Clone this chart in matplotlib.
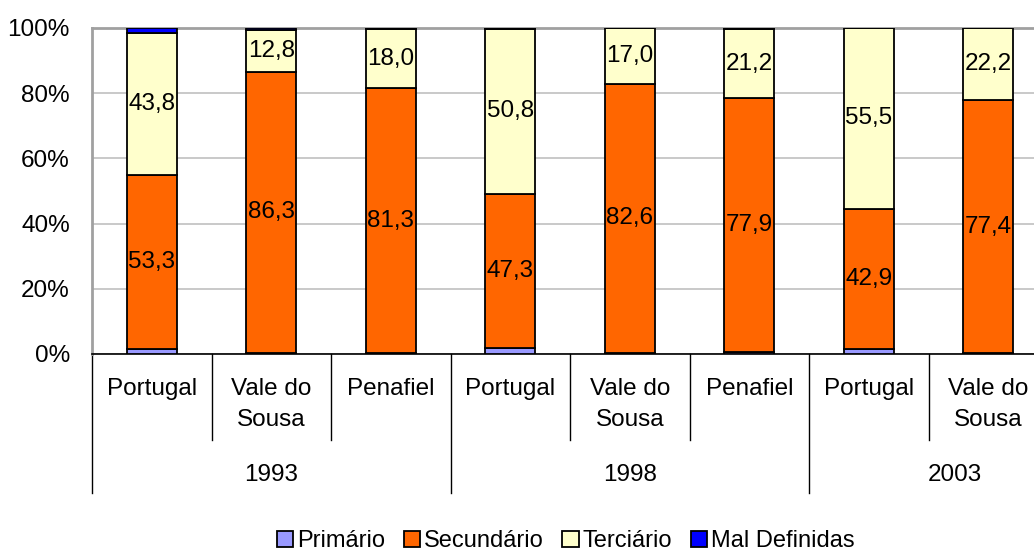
import matplotlib.pyplot as plt
import matplotlib.transforms as mtransforms
import numpy as np

plt.rcParams['font.family'] = ['Liberation Sans', 'DejaVu Sans']

# categories (Penafiel 2003 is cut off in the source picture)
places = ['Portugal', 'Vale do\nSousa', 'Penafiel',
          'Portugal', 'Vale do\nSousa', 'Penafiel',
          'Portugal', 'Vale do\nSousa']
years = ['1993', '1998', '2003']

primario = [1.5, 0.3, 0.3, 1.7, 0.3, 0.5, 1.6, 0.4]
secundario = [53.3, 86.3, 81.3, 47.3, 82.6, 77.9, 42.9, 77.4]
terciario = [43.8, 12.8, 18.0, 50.8, 17.0, 21.2, 55.5, 22.2]
mal_definidas = [1.4, 0.6, 0.4, 0.2, 0.1, 0.4, 0.0, 0.0]

series = [
    ('Primário', primario, '#9999FF'),
    ('Secundário', secundario, '#FF6600'),
    ('Terciário', terciario, '#FFFFCC'),
    ('Mal Definidas', mal_definidas, '#0000FF'),
]

fig = plt.figure(figsize=(10.34, 5.51), dpi=100)
ax = fig.add_axes([92 / 1034, 1 - 354 / 551, 1 - 92 / 1034, 326 / 551])

x = np.arange(len(places))
bottom = np.zeros(len(places))
for name, vals, color in series:
    vals = np.array(vals)
    ax.bar(x, vals, width=0.42, bottom=bottom, color=color,
           edgecolor='black', linewidth=1.3, label=name, zorder=3)
    if name in ('Secundário', 'Terciário'):
        for xi, b, v in zip(x, bottom, vals):
            ax.text(xi, b + v / 2, f'{v:.1f}'.replace('.', ','),
                    ha='center', va='center', fontsize=17.5, zorder=4)
    bottom += vals

ax.set_ylim(0, 100)
ax.set_xlim(-0.5, -0.5 + (1034 - 92) / 119.5)
ax.set_yticks(np.arange(0, 101, 20))
ax.set_yticklabels([f'{v}%' for v in range(0, 101, 20)], fontsize=17.5)
ax.tick_params(axis='y', length=0, pad=16)
ax.set_xticks([])
ax.grid(axis='y', color='#C0C0C0', linewidth=1.2, zorder=0)

ax.spines['right'].set_visible(False)
ax.spines['left'].set_color('#A0A0A0')
ax.spines['left'].set_linewidth(2)
ax.spines['top'].set_color('#A0A0A0')
ax.spines['top'].set_linewidth(2)
ax.spines['bottom'].set_color('black')
ax.spines['bottom'].set_linewidth(1.2)

trans = mtransforms.blended_transform_factory(ax.transData, ax.transAxes)

# category labels and separators
for xi, lab in zip(x, places):
    ax.text(xi, -0.075, lab, transform=trans, ha='center', va='top',
            fontsize=17.5, linespacing=1.5)
for i in range(len(places) + 1):
    xs = i - 0.5
    if i % 3 == 0:
        ax.plot([xs, xs], [0, -0.425], transform=trans, color='black',
                linewidth=1, clip_on=False)
    else:
        ax.plot([xs, xs], [0, -0.265], transform=trans, color='black',
                linewidth=1, clip_on=False)

year_pos = [1, 4, 6.72]
for xp, yr in zip(year_pos, years):
    ax.text(xp, -0.37, yr, transform=trans, ha='center', va='center',
            fontsize=17.5)

fig.legend(loc='center', bbox_to_anchor=(0.547, 0.018), ncol=4, frameon=False,
           fontsize=17, handlelength=0.7, handleheight=0.7,
           handletextpad=0.15, columnspacing=0.8, borderaxespad=0)

fig.savefig('out.png', dpi=100)
